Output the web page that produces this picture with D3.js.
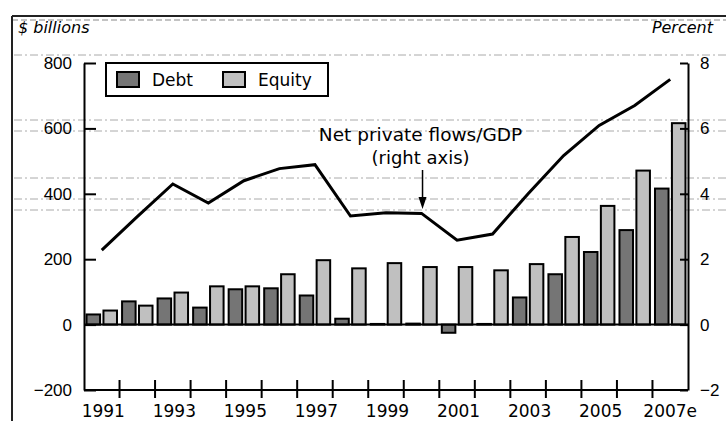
<!DOCTYPE html>
<html>
<head>
<meta charset="utf-8">
<script src="https://cdn.jsdelivr.net/npm/d3@7"></script>
<style>
  body { margin: 0; background: #fff; }
  svg { font-family: "DejaVu Sans", Arial, sans-serif; }
</style>
</head>
<body>
<div id="chart"></div>
<script>
'use strict'

// data
const years = ['1991', '1992', '1993', '1994', '1995', '1996', '1997', '1998', '1999',
    '2000', '2001', '2002', '2003', '2004', '2005', '2006', '2007e']
const debt = [31, 71, 80, 52, 108, 111, 89, 18, 2, 3, -25, 2, 83, 154, 222, 289, 416]
const equity = [43, 58, 98, 117, 117, 154, 197, 172, 188, 176, 176, 166, 185, 268, 363, 471, 616]
const flowsGdp = [2.28, 3.3, 4.3, 3.72, 4.4, 4.77, 4.89, 3.32, 3.42, 3.4, 2.58, 2.77, 4.0, 5.17, 6.09, 6.7, 7.5]
const leftTicks = [-200, 0, 200, 400, 600, 800]
const rightTicks = [-2, 0, 2, 4, 6, 8]
const yearLabels = ['1991', '1993', '1995', '1997', '1999', '2001', '2003', '2005', '2007e']
const series = ['Debt', 'Equity']

const svgWidth = 726
const svgHeight = 421
const margin = { left: 84, right: 38, top: 63, bottom: 31 }
const width = svgWidth - margin.left - margin.right
const height = svgHeight - margin.top - margin.bottom

const svg = d3.select('#chart')
    .append('svg')
    .attr('width', svgWidth)
    .attr('height', svgHeight)

// scanned page frame
svg.append('line').attr('x1', 12).attr('x2', svgWidth).attr('y1', 16).attr('y2', 16)
    .attr('stroke', '#222').attr('stroke-width', 2)
svg.append('line').attr('x1', 12).attr('x2', svgWidth).attr('y1', 20).attr('y2', 20)
    .attr('stroke', '#888').attr('stroke-width', 1).attr('stroke-dasharray', '6,3')
svg.append('line').attr('x1', 12).attr('x2', 12).attr('y1', 16).attr('y2', svgHeight)
    .attr('stroke', '#222').attr('stroke-width', 2)

// faint scan lines
const scanLines = [55, 120, 131, 178, 199, 210]
svg.selectAll('.scan').data(scanLines).join('line')
    .attr('class', 'scan')
    .attr('x1', 14).attr('x2', svgWidth)
    .attr('y1', d => d).attr('y2', d => d)
    .attr('stroke', '#aaa').attr('stroke-width', 1).attr('stroke-dasharray', '8,3,2,3')

svg.append('text').attr('x', 18).attr('y', 33)
    .attr('font-size', 16).attr('font-style', 'italic').text('$ billions')
svg.append('text').attr('x', 713).attr('y', 33).attr('text-anchor', 'end')
    .attr('font-size', 16).attr('font-style', 'italic').text('Percent')

const g = svg.append('g')
    .attr('transform', `translate(${margin.left},${margin.top})`)

// scales
const x = d3.scaleBand().domain(years).range([0, width])
const xSeries = d3.scaleBand().domain(series).range([0, x.bandwidth()])
    .paddingInner(0.2).paddingOuter(0.15)
const yLeft = d3.scaleLinear().domain([-200, 800]).range([height, 0])
const yRight = d3.scaleLinear().domain([-2, 8]).range([height, 0])

const fills = { Debt: '#757575', Equity: '#c0c0c0' }

// bars
const rows = years.map((yr, i) => ({ year: yr, Debt: debt[i], Equity: equity[i] }))
const yearG = g.selectAll('.year').data(rows).join('g')
    .attr('class', 'year')
    .attr('transform', d => `translate(${x(d.year)},0)`)
yearG.selectAll('rect')
    .data(d => series.map(s => ({ key: s, value: d[s] })))
    .join('rect')
    .attr('x', d => xSeries(d.key))
    .attr('width', xSeries.bandwidth())
    .attr('y', d => yLeft(Math.max(0, d.value)))
    .attr('height', d => Math.abs(yLeft(d.value) - yLeft(0)))
    .attr('fill', d => fills[d.key])
    .attr('stroke', '#000')
    .attr('stroke-width', 2)

// zero line
g.append('line').attr('x1', 0).attr('x2', width)
    .attr('y1', yLeft(0)).attr('y2', yLeft(0))
    .attr('stroke', '#000').attr('stroke-width', 2)

// flows / GDP line
const line = d3.line()
    .x((d, i) => x(years[i]) + x.bandwidth() / 2)
    .y(d => yRight(d))
g.append('path').datum(flowsGdp)
    .attr('d', line)
    .attr('fill', 'none')
    .attr('stroke', '#000')
    .attr('stroke-width', 3)

// left axis
const leftAxis = g.append('g')
    .call(d3.axisLeft(yLeft).tickValues(leftTicks).tickSizeInner(-12).tickSizeOuter(0)
        .tickPadding(12).tickFormat(d => d < 0 ? '\u2212' + Math.abs(d) : d))
leftAxis.selectAll('text').attr('font-size', 17).attr('fill', '#000')
leftAxis.selectAll('line, path').attr('stroke', '#000').attr('stroke-width', 2)

// right axis
const rightAxis = g.append('g')
    .attr('transform', `translate(${width},0)`)
    .call(d3.axisRight(yRight).tickValues(rightTicks).tickSizeInner(-8).tickSizeOuter(0)
        .tickPadding(12).tickFormat(d => d < 0 ? '\u2212' + Math.abs(d) : d))
rightAxis.selectAll('text').attr('font-size', 17).attr('fill', '#000')
rightAxis.selectAll('line, path').attr('stroke', '#000').attr('stroke-width', 2)

// bottom axis, ticks between years
const bottom = g.append('g').attr('transform', `translate(0,${height})`)
bottom.append('line').attr('x1', 0).attr('x2', width)
    .attr('stroke', '#000').attr('stroke-width', 2)
bottom.selectAll('.tick-mark').data(years.slice(1)).join('line')
    .attr('class', 'tick-mark')
    .attr('x1', d => x(d)).attr('x2', d => x(d))
    .attr('y1', -10).attr('y2', 8)
    .attr('stroke', '#000').attr('stroke-width', 2)
bottom.selectAll('.year-label').data(yearLabels).join('text')
    .attr('class', 'year-label')
    .attr('x', d => x(d) + x.bandwidth() / 2 + (d === '2007e' ? 0 : 1.5))
    .attr('y', 27)
    .attr('text-anchor', 'middle')
    .attr('font-size', 17)
    .text(d => d)

// legend
const legend = svg.append('g').attr('transform', 'translate(106,63)')
legend.append('rect').attr('width', 222).attr('height', 33)
    .attr('fill', '#fff').attr('stroke', '#000').attr('stroke-width', 2)
const legendX = { Debt: 11, Equity: 117 }
series.forEach(s => {
    legend.append('rect').attr('x', legendX[s]).attr('y', 9).attr('width', 22).attr('height', 15)
        .attr('fill', fills[s]).attr('stroke', '#000').attr('stroke-width', 2)
    legend.append('text').attr('x', legendX[s] + 35).attr('y', 23)
        .attr('font-size', 17).text(s)
})

// annotation
const annX = margin.left + x('2000') + x.bandwidth() / 2
svg.append('text').attr('x', annX - 1).attr('y', 141)
    .attr('text-anchor', 'middle').attr('font-size', 18.5).text('Net private flows/GDP')
svg.append('text').attr('x', annX - 1).attr('y', 164)
    .attr('text-anchor', 'middle').attr('font-size', 18).text('(right axis)')
svg.append('line').attr('x1', annX + 1).attr('x2', annX + 1)
    .attr('y1', 170).attr('y2', 202)
    .attr('stroke', '#000').attr('stroke-width', 1.5)
svg.append('path')
    .attr('d', `M${annX - 3},197 L${annX + 1},209 L${annX + 5},197 Z`)
    .attr('fill', '#000')
</script>
</body>
</html>
